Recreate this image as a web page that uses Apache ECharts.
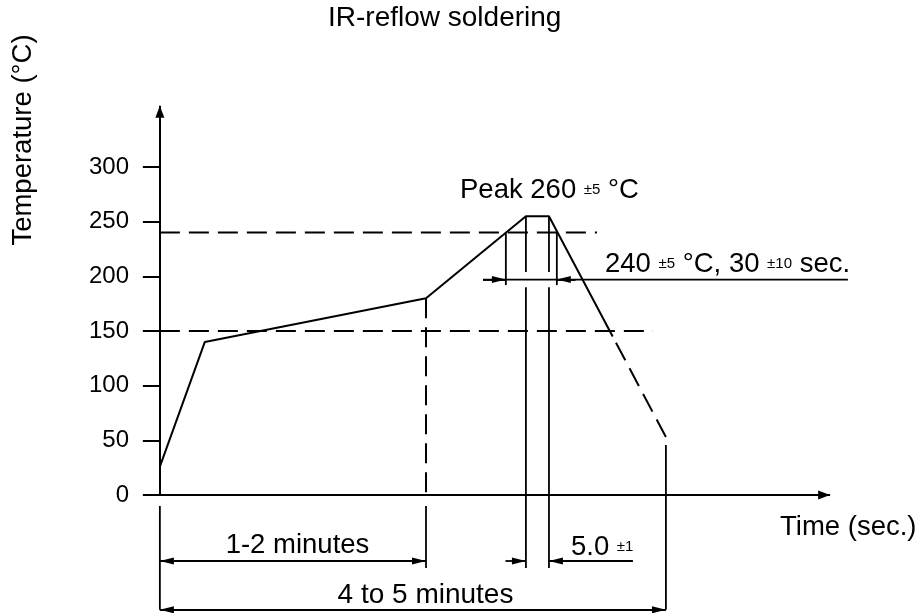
<!DOCTYPE html>
<html><head><meta charset="utf-8">
<script src="https://cdn.jsdelivr.net/npm/echarts@6/dist/echarts.min.js"></script>
<style>html,body{margin:0;padding:0;background:#fff}#c{width:921px;height:613px}</style>
</head><body><div id="c"></div>
<script>
// ---------------- data (time in s, temperature in °C) ----------------
const yTickValues = [0, 50, 100, 150, 200, 250, 300];
const profileTime = [0, 24, 142, 195.3, 207.6, 241.6];
const profileTemp = [26, 140, 180, 255, 255, 145];
const coolingTime = [241.6, 270];
const coolingTemp = [145, 53];
const levelTemps = [240, 150];
const levelEndTimes = [233.2, 263.1];
const above240Times = [184.6, 211.8];
const peakTimes = [195.3, 207.6];
const preheatEnd = [142, 180];
const totalEnd = [270, 45.7];
const dimTemps = [197, -60.4, -105];      // dimension-line levels
const extTemps = [-10, -66.8, -105];      // extension-line ends
const gapTemps = [204, 190];              // break around 240 dimension line
const dimTails = [172.4, 367.1, 184.4, 252.4];
const axisEnds = [-9, 357.6, 356];        // x start, x arrow tip, y arrow tip

const BLACK = '#000';
const FONT = "'Liberation Sans', Arial, sans-serif";

function seg(points, dashed, width, dashOffset) {
  return {
    type: 'line', data: points, symbol: 'none', silent: true, clip: false,
    animation: false,
    lineStyle: { color: BLACK, width: width || 2, type: dashed ? [20, 9] : 'solid',
      dashOffset: dashOffset || 0, cap: 'butt' },
    z: 3
  };
}

const series = [];
series.push(seg(profileTime.map((t, i) => [t, profileTemp[i]]), false, 2));
series.push(seg(coolingTime.map((t, i) => [t, coolingTemp[i]]), true, 2, 22));
levelTemps.forEach((v, i) => series.push(seg([[0, v], [levelEndTimes[i], v]], true, 2)));
series.push(seg([[preheatEnd[0], preheatEnd[1]], [preheatEnd[0], 0]], true, 2));
// peak plateau verticals
peakTimes.forEach(t => {
  series.push(seg([[t, 255], [t, gapTemps[0]]], false, 1.8));
  series.push(seg([[t, gapTemps[1]], [t, extTemps[1]]], false, 1.8));
});
// 240 crossing verticals
above240Times.forEach(t => series.push(seg([[t, levelTemps[0]], [t, 192]], false, 1.8)));
// 240 dimension line
series.push(seg([[dimTails[0], dimTemps[0]], [dimTails[1], dimTemps[0]]], false, 1.8));
// extension lines below axis
series.push(seg([[0, extTemps[0]], [0, extTemps[2]]], false, 1.8));
series.push(seg([[preheatEnd[0], extTemps[0]], [preheatEnd[0], extTemps[1]]], false, 1.8));
series.push(seg([[totalEnd[0], totalEnd[1]], [totalEnd[0], extTemps[2]]], false, 1.8));

function pt(x, y, end) { return Object.assign({ coord: [x, y] }, end); }
const noEnd = { symbol: 'none' };

// axes lines with arrow heads
const axisArrow = { symbol: 'triangle', symbolSize: [9, 12], symbolOffset: [0, 6] };
series.push({
  type: 'line', data: [], symbol: 'none', silent: true, clip: false, animation: false,
  markLine: {
    silent: true, animation: false, label: { show: false },
    lineStyle: { color: BLACK, width: 2, type: 'solid' },
    data: [
      [pt(axisEnds[0], 0, noEnd), pt(axisEnds[1], 0, axisArrow)],
      [pt(0, 0, noEnd), pt(0, axisEnds[2], axisArrow)]
    ]
  }
});

// dimension arrows
const arrowEnd = { symbol: 'triangle', symbolSize: [7, 14], symbolOffset: [0, 7] };
series.push({
  type: 'line', data: [], symbol: 'none', silent: true, clip: false, animation: false,
  markLine: {
    silent: true, animation: false,
    label: { show: false },
    lineStyle: { color: BLACK, width: 1.8, type: 'solid' },
    data: [
      [pt(0, dimTemps[1], arrowEnd), pt(preheatEnd[0], dimTemps[1], arrowEnd)],
      [pt(0, dimTemps[2], arrowEnd), pt(totalEnd[0], dimTemps[2], arrowEnd)],
      [pt(dimTails[0], dimTemps[0], noEnd), pt(above240Times[0], dimTemps[0], arrowEnd)],
      [pt(above240Times[1] + 10, dimTemps[0], noEnd), pt(above240Times[1], dimTemps[0], arrowEnd)],
      [pt(dimTails[2], dimTemps[1], noEnd), pt(peakTimes[0], dimTemps[1], arrowEnd)],
      [pt(dimTails[3], dimTemps[1], noEnd), pt(peakTimes[1], dimTemps[1], arrowEnd)]
    ]
  }
});

function txt(x, y, text, opts) {
  return {
    type: 'text', x: x, y: y, silent: true, z: 10,
    rotation: (opts && opts.rotation) || 0,
    style: Object.assign({
      text: text, fill: BLACK, fontFamily: FONT, fontSize: 27.5,
      align: 'left', verticalAlign: 'middle',
      rich: { s: { fontSize: 15, fontFamily: FONT, fill: BLACK } }
    }, opts && opts.style)
  };
}

const option = {
  backgroundColor: '#fff',
  animation: false,
  grid: { left: 143, right: 0, top: 105, bottom: 0, containLabel: false },
  xAxis: {
    type: 'value', min: -9, max: 406.1,
    axisLine: { show: false, onZero: true },
    axisTick: { show: false }, axisLabel: { show: false }, splitLine: { show: false }
  },
  yAxis: {
    type: 'value', min: -107.9, max: 356.7,
    axisLine: { show: false, onZero: true },
    axisTick: { show: true, inside: false, length: 17, customValues: yTickValues,
      lineStyle: { color: BLACK, width: 2 } },
    axisLabel: { show: true, customValues: yTickValues, margin: 14, color: BLACK,
      fontFamily: FONT, fontSize: 24 },
    splitLine: { show: false }
  },
  series: series,
  graphic: [
    txt(444.7, 18.5, 'IR-reflow soldering', { style: { align: 'center', fontSize: 28 } }),
    txt(23, 140, 'Temperature (°C)', { rotation: Math.PI / 2, style: { align: 'center' } }),
    txt(460, 190, 'Peak 260 {s|±5} °C'),
    txt(605, 264, '240 {s|±5} °C, 30 {s|±10} sec.'),
    txt(297.5, 545.5, '1-2 minutes', { style: { align: 'center' } }),
    txt(571, 547, '5.0 {s|±1}'),
    txt(425.5, 595, '4 to 5 minutes', { style: { align: 'center', fontSize: 28 } }),
    txt(780, 527, 'Time (sec.)')
  ]
};

const chart = echarts.init(document.getElementById('c'), null, { renderer: 'canvas' });
chart.setOption(option);
</script>
</body></html>
